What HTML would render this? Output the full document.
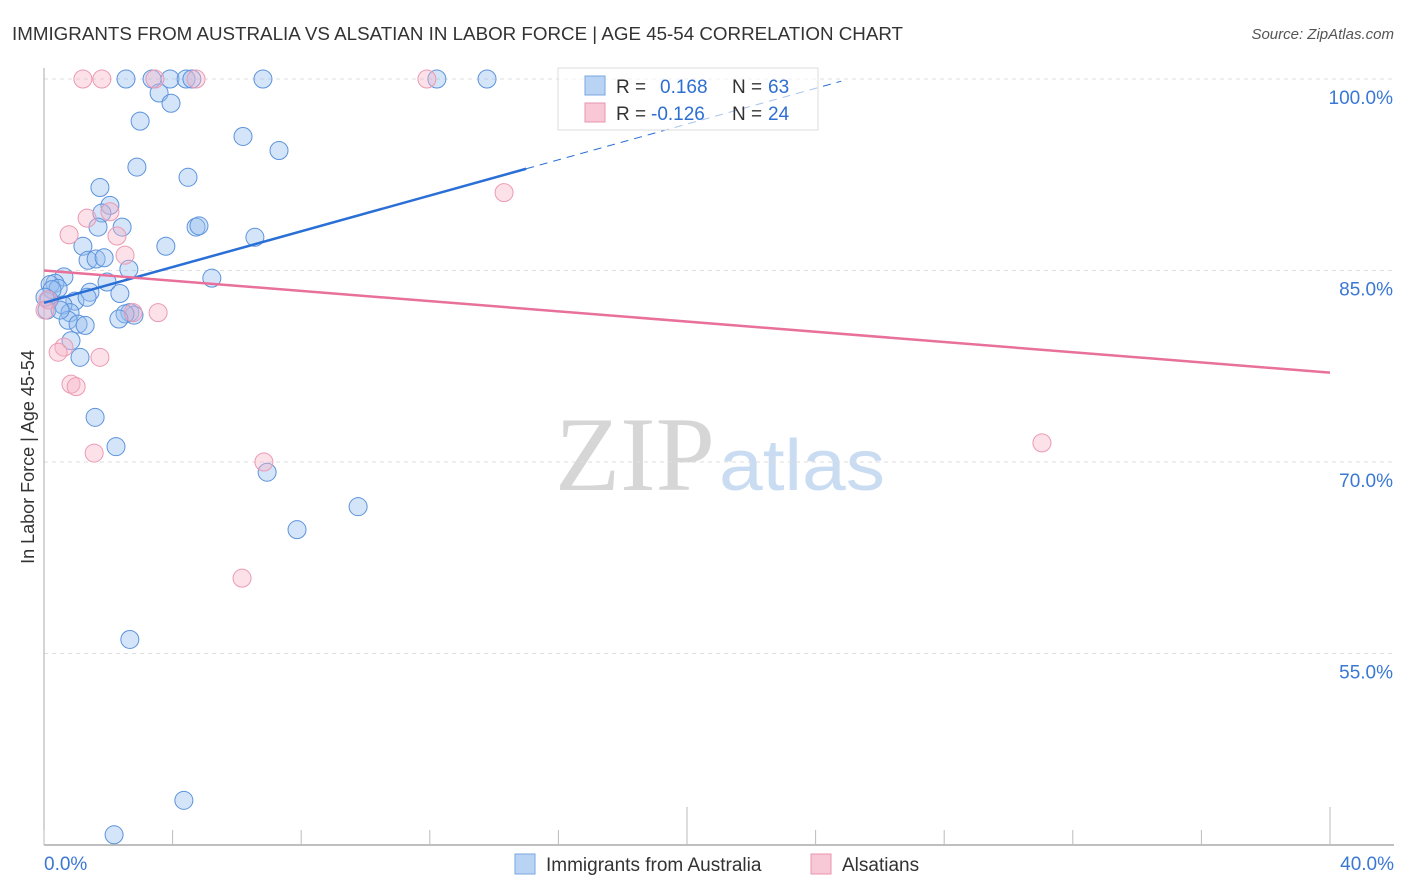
<!DOCTYPE html>
<html><head><meta charset="utf-8">
<style>
body{margin:0;background:#fff;font-family:"Liberation Sans",sans-serif;}
svg{display:block}
</style></head>
<body>
<svg id="chart" width="1406" height="892" xmlns="http://www.w3.org/2000/svg">
  <text x="12" y="40" font-size="18" fill="#333" textLength="891" lengthAdjust="spacingAndGlyphs">IMMIGRANTS FROM AUSTRALIA VS ALSATIAN IN LABOR FORCE | AGE 45-54 CORRELATION CHART</text>
  <text x="1394" y="39" font-size="15" fill="#555" font-style="italic" text-anchor="end">Source: ZipAtlas.com</text>
  <g>
    <text x="635" y="490" font-size="106" fill="#d6d6d6" font-family="Liberation Serif,serif" text-anchor="middle" textLength="160" lengthAdjust="spacingAndGlyphs">ZIP</text>
    <text x="802" y="490" font-size="72" fill="#cadcf2" text-anchor="middle" textLength="166" lengthAdjust="spacingAndGlyphs">atlas</text>
  </g>
  <g id="grid"></g>
  <g id="axes"></g>
  <g id="marks"></g>
  <g>
    <rect x="558" y="68" width="260" height="62" fill="rgba(255,255,255,0.6)" stroke="#ddd"/>
    <rect x="585" y="76" width="20" height="19" fill="#b8d3f4" stroke="#7aa7e0"/>
    <rect x="585" y="103" width="20" height="19" fill="#f9c8d6" stroke="#e895ae"/>
    <text x="616" y="93" font-size="19" fill="#333">R = </text>
    <text x="660" y="93" font-size="19" fill="#2d6fd0">0.168</text>
    <text x="732" y="93" font-size="19" fill="#333">N = </text>
    <text x="768" y="93" font-size="19" fill="#2d6fd0">63</text>
    <text x="616" y="120" font-size="19" fill="#333">R = </text>
    <text x="651" y="120" font-size="19" fill="#2d6fd0">-0.126</text>
    <text x="732" y="120" font-size="19" fill="#333">N = </text>
    <text x="768" y="120" font-size="19" fill="#2d6fd0">24</text>
  </g>
  <g>
    <rect x="515" y="854" width="20" height="20" fill="#b8d3f4" stroke="#7aa7e0"/>
    <text x="546" y="871" font-size="19" fill="#333">Immigrants from Australia</text>
    <rect x="811" y="854" width="20" height="20" fill="#f9c8d6" stroke="#e895ae"/>
    <text x="842" y="871" font-size="19" fill="#333">Alsatians</text>
  </g>
</svg>
<script>
const blueX=[2.55,3.36,3.92,4.42,4.60,6.81,12.22,13.78,3.58,3.95,2.99,6.19,7.31,2.89,4.48,1.74,2.05,1.80,1.68,2.43,4.73,4.82,6.56,1.21,3.79,1.37,1.62,1.87,2.64,5.22,0.62,1.96,0.34,0.19,0.44,1.43,2.36,0.96,0.59,1.34,2.67,2.80,2.52,2.33,0.81,0.75,1.06,1.28,0.16,0.09,0.84,1.12,1.59,2.24,6.94,7.87,9.77,2.67,4.35,2.18,0.25,0.50,0.03];
const blueY=[100,100,100,100,100,100,100,100,98.9,98.1,96.7,95.5,94.4,93.1,92.3,91.5,90.1,89.5,88.4,88.4,88.4,88.5,87.6,86.9,86.9,85.8,85.9,86.0,85.1,84.4,84.5,84.1,84.0,83.9,83.6,83.3,83.2,82.6,82.3,82.9,81.7,81.5,81.6,81.2,81.7,81.1,80.8,80.7,82.7,81.9,79.5,78.2,73.5,71.2,69.2,64.7,66.5,56.1,43.5,40.8,83.5,81.9,82.9];
const pinkX=[1.21,1.80,3.45,4.73,11.91,14.31,2.05,1.34,0.78,2.27,2.52,3.55,2.77,0.12,0.03,0.62,0.44,1.74,0.84,1.00,1.56,6.84,6.16,31.04];
const pinkY=[100,100,100,100,100,91.1,89.6,89.1,87.8,87.7,86.2,81.7,81.7,82.7,81.9,79.0,78.6,78.2,76.1,75.9,70.7,70.0,60.9,71.5];
const yTicks=[100,85,70,55];
const yTickLabels=["100.0%","85.0%","70.0%","55.0%"];
const xTickVals=[0,4,8,12,16,20,24,28,32,36,40];
const xEndLabels=["0.0%","40.0%"];
const blueTrend=[82.47,0.70];
const pinkTrend=[85.0,-0.2];

const NS="http://www.w3.org/2000/svg";
const X=v=>44+v/40*1286;
const Y=v=>79+(100-v)/60*766;
function mk(tag,attrs,parent){const e=document.createElementNS(NS,tag);for(const k in attrs)e.setAttribute(k,attrs[k]);parent.appendChild(e);return e;}
const grid=document.getElementById('grid'),axes=document.getElementById('axes'),marks=document.getElementById('marks');
yTicks.forEach((t,i)=>{
  const l=mk('line',{x1:44,x2:1394,y1:Y(t),y2:Y(t),stroke:'#ddd','stroke-dasharray':'4,4'},grid);
  
  
  const tx=mk('text',{x:1393,y:Y(t)+25,'font-size':19,fill:'#3a78d4','text-anchor':'end'},axes);
  tx.textContent=yTickLabels[i];
  
  
});
const ya=mk('line',{x1:44,x2:44,y1:68,y2:845,stroke:'#aaa'},axes);


const xa=mk('line',{x1:44,x2:1394,y1:845,y2:845,stroke:'#aaa','stroke-width':1.5},axes);


xTickVals.forEach(v=>{
  const long=(v===20||v===40);
  const t=mk('line',{x1:X(v),x2:X(v),y1:long?807:830,y2:845,stroke:'#bbb'},axes);
  
  
});
const xl0=mk('text',{x:44,y:870,'font-size':19,fill:'#3a78d4'},axes);xl0.textContent=xEndLabels[0];


const xl1=mk('text',{x:1394,y:870,'font-size':19,fill:'#3a78d4','text-anchor':'end'},axes);xl1.textContent=xEndLabels[1];


const yt=mk('text',{x:0,y:0,'font-size':18,fill:'#333','text-anchor':'middle',transform:'translate(34,457) rotate(-90)'},axes);
yt.textContent='In Labor Force | Age 45-54';



blueX.forEach((x,i)=>{
  const c=mk('circle',{cx:X(x),cy:Y(blueY[i]),r:9,fill:'rgba(150,190,240,0.4)',stroke:'#5b93dc','stroke-width':1},marks);
  
  
});
pinkX.forEach((x,i)=>{
  const c=mk('circle',{cx:X(x),cy:Y(pinkY[i]),r:9,fill:'rgba(248,180,200,0.4)',stroke:'#eb9ab3','stroke-width':1},marks);
  
  
});
const bt=x=>blueTrend[0]+blueTrend[1]*x;
const b1=mk('line',{x1:X(0),y1:Y(bt(0)),x2:X(15),y2:Y(bt(15)),stroke:'#2a6fd6','stroke-width':2.5},marks);


const b2=mk('line',{x1:X(15),y1:Y(bt(15)),x2:X(24.8),y2:Y(bt(24.8)),stroke:'#2a6fd6','stroke-width':1,'stroke-dasharray':'8,6'},marks);


const pt=x=>pinkTrend[0]+pinkTrend[1]*x;
const p1=mk('line',{x1:X(0),y1:Y(pt(0)),x2:X(40),y2:Y(pt(40)),stroke:'#e8709a','stroke-width':2.5},marks);


</script>
</body></html>
